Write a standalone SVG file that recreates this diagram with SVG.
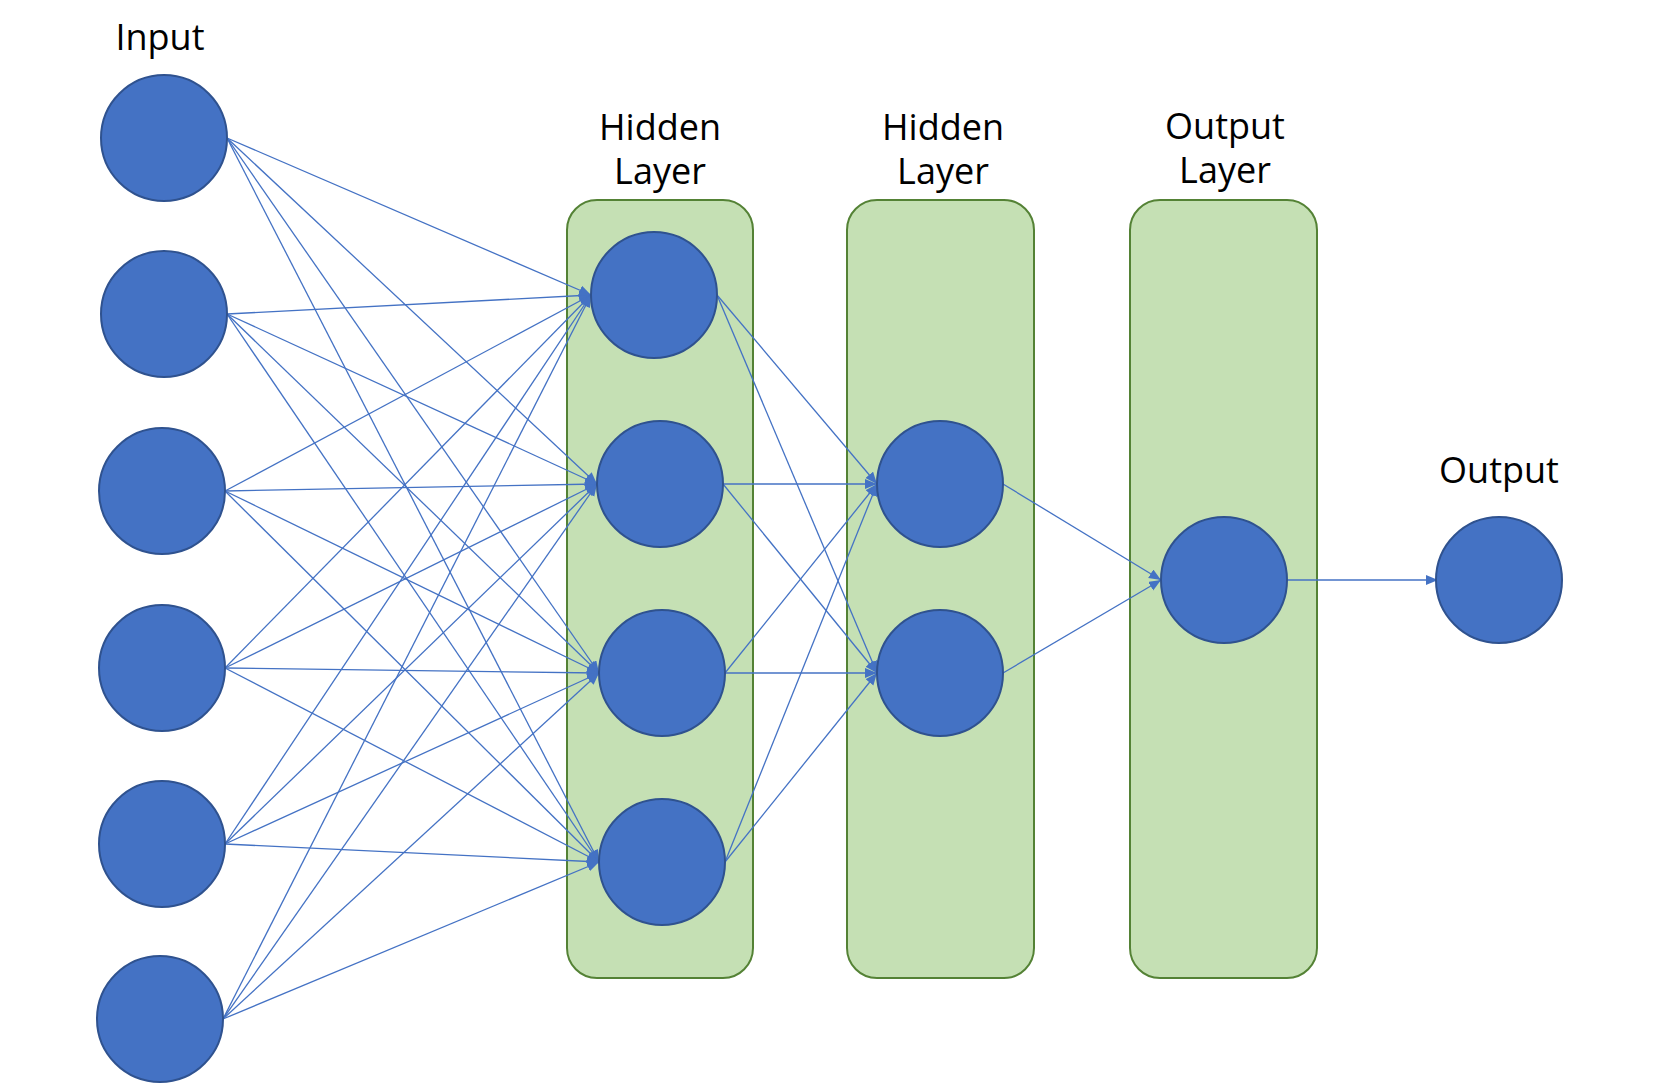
<svg xmlns="http://www.w3.org/2000/svg" width="1660" height="1083" viewBox="0 0 1660 1083">
<style>
.box{fill:#C5E0B4;stroke:#548235;stroke-width:2}
.n{fill:#4472C4;stroke:#2F528F;stroke-width:2}
.c{stroke:#4472C4;stroke-width:1.3;fill:none;marker-end:url(#ah)}
.t{font-family:"Open Sans","Noto Sans",sans-serif;font-size:36px;fill:#000;text-anchor:middle}
</style>
<defs>
<marker id="ah" markerUnits="userSpaceOnUse" markerWidth="13" markerHeight="11" refX="12" refY="5" orient="auto">
<path d="M0,0 L12,5 L0,10 z" fill="#4472C4"/>
</marker>
</defs>
<rect width="1660" height="1083" fill="#fff"/>
<g id="layers">
<rect id="hidden1-box" class="box" x="567" y="200" width="186" height="778" rx="30"/>
<rect id="hidden2-box" class="box" x="847" y="200" width="187" height="778" rx="30"/>
<rect id="outlayer-box" class="box" x="1130" y="200" width="187" height="778" rx="30"/>
</g>
<g id="labels">
<text class="t" x="160" y="50">Input</text>
<text class="t" x="660" y="140">Hidden<tspan x="660" dy="44">Layer</tspan></text>
<text class="t" x="943" y="140">Hidden<tspan x="943" dy="44">Layer</tspan></text>
<text class="t" x="1225" y="139">Output<tspan x="1225" dy="44">Layer</tspan></text>
<text class="t" x="1499" y="483">Output</text>
</g>
<g id="connectors">
<line class="c" x1="227" y1="138" x2="591" y2="295"/>
<line class="c" x1="227" y1="138" x2="597" y2="484"/>
<line class="c" x1="227" y1="138" x2="599" y2="673"/>
<line class="c" x1="227" y1="138" x2="599" y2="862"/>
<line class="c" x1="227" y1="314" x2="591" y2="295"/>
<line class="c" x1="227" y1="314" x2="597" y2="484"/>
<line class="c" x1="227" y1="314" x2="599" y2="673"/>
<line class="c" x1="227" y1="314" x2="599" y2="862"/>
<line class="c" x1="225" y1="491" x2="591" y2="295"/>
<line class="c" x1="225" y1="491" x2="597" y2="484"/>
<line class="c" x1="225" y1="491" x2="599" y2="673"/>
<line class="c" x1="225" y1="491" x2="599" y2="862"/>
<line class="c" x1="225" y1="668" x2="591" y2="295"/>
<line class="c" x1="225" y1="668" x2="597" y2="484"/>
<line class="c" x1="225" y1="668" x2="599" y2="673"/>
<line class="c" x1="225" y1="668" x2="599" y2="862"/>
<line class="c" x1="225" y1="844" x2="591" y2="295"/>
<line class="c" x1="225" y1="844" x2="597" y2="484"/>
<line class="c" x1="225" y1="844" x2="599" y2="673"/>
<line class="c" x1="225" y1="844" x2="599" y2="862"/>
<line class="c" x1="223" y1="1019" x2="591" y2="295"/>
<line class="c" x1="223" y1="1019" x2="597" y2="484"/>
<line class="c" x1="223" y1="1019" x2="599" y2="673"/>
<line class="c" x1="223" y1="1019" x2="599" y2="862"/>
<line class="c" x1="717" y1="295" x2="877" y2="484"/>
<line class="c" x1="717" y1="295" x2="877" y2="673"/>
<line class="c" x1="723" y1="484" x2="877" y2="484"/>
<line class="c" x1="723" y1="484" x2="877" y2="673"/>
<line class="c" x1="725" y1="673" x2="877" y2="484"/>
<line class="c" x1="725" y1="673" x2="877" y2="673"/>
<line class="c" x1="725" y1="862" x2="877" y2="484"/>
<line class="c" x1="725" y1="862" x2="877" y2="673"/>
<line class="c" x1="1003" y1="484" x2="1161" y2="580"/>
<line class="c" x1="1003" y1="673" x2="1161" y2="580"/>
<line class="c" x1="1287" y1="580" x2="1438" y2="580"/>
</g>
<g id="input-nodes">
<circle id="in1" class="n" cx="164" cy="138" r="63"/>
<circle id="in2" class="n" cx="164" cy="314" r="63"/>
<circle id="in3" class="n" cx="162" cy="491" r="63"/>
<circle id="in4" class="n" cx="162" cy="668" r="63"/>
<circle id="in5" class="n" cx="162" cy="844" r="63"/>
<circle id="in6" class="n" cx="160" cy="1019" r="63"/>
</g>
<g id="hidden1-nodes">
<circle id="h1a" class="n" cx="654" cy="295" r="63"/>
<circle id="h1b" class="n" cx="660" cy="484" r="63"/>
<circle id="h1c" class="n" cx="662" cy="673" r="63"/>
<circle id="h1d" class="n" cx="662" cy="862" r="63"/>
</g>
<g id="hidden2-nodes">
<circle id="h2a" class="n" cx="940" cy="484" r="63"/>
<circle id="h2b" class="n" cx="940" cy="673" r="63"/>
</g>
<g id="output-layer-node">
<circle id="ol" class="n" cx="1224" cy="580" r="63"/>
</g>
<g id="output-node">
<circle id="out" class="n" cx="1499" cy="580" r="63"/>
</g>
</svg>
